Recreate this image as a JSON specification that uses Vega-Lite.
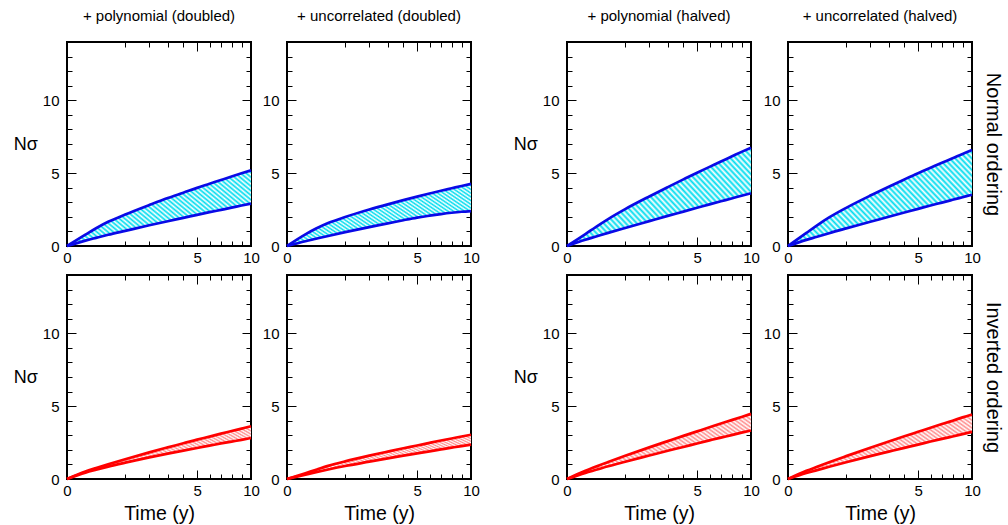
{
"$schema": "https://vega.github.io/schema/vega-lite/v6.json",
"padding": {"left": 12, "top": 8, "right": 4, "bottom": 4},
"datasets": {"curves": [
{"p":"A","o":"N","t":0,"lo":0,"hi":0},{"p":"A","o":"N","t":0.1,"lo":0.37,"hi":0.78},{"p":"A","o":"N","t":0.25,"lo":0.56,"hi":1.22},{"p":"A","o":"N","t":0.5,"lo":0.77,"hi":1.66},{"p":"A","o":"N","t":1,"lo":1.04,"hi":2.16},{"p":"A","o":"N","t":2,"lo":1.42,"hi":2.81},{"p":"A","o":"N","t":3,"lo":1.7,"hi":3.29},{"p":"A","o":"N","t":4,"lo":1.93,"hi":3.66},{"p":"A","o":"N","t":5,"lo":2.14,"hi":3.99},{"p":"A","o":"N","t":6,"lo":2.32,"hi":4.27},{"p":"A","o":"N","t":7,"lo":2.48,"hi":4.53},{"p":"A","o":"N","t":8,"lo":2.63,"hi":4.77},{"p":"A","o":"N","t":9,"lo":2.78,"hi":4.99},{"p":"A","o":"N","t":10,"lo":2.91,"hi":5.19},
{"p":"B","o":"N","t":0,"lo":0,"hi":0},{"p":"B","o":"N","t":0.1,"lo":0.33,"hi":0.8},{"p":"B","o":"N","t":0.25,"lo":0.5,"hi":1.2},{"p":"B","o":"N","t":0.5,"lo":0.69,"hi":1.58},{"p":"B","o":"N","t":1,"lo":0.95,"hi":1.99},{"p":"B","o":"N","t":2,"lo":1.3,"hi":2.5},{"p":"B","o":"N","t":3,"lo":1.55,"hi":2.86},{"p":"B","o":"N","t":4,"lo":1.77,"hi":3.15},{"p":"B","o":"N","t":5,"lo":1.95,"hi":3.39},{"p":"B","o":"N","t":6,"lo":2.08,"hi":3.6},{"p":"B","o":"N","t":7,"lo":2.19,"hi":3.79},{"p":"B","o":"N","t":8,"lo":2.28,"hi":3.96},{"p":"B","o":"N","t":9,"lo":2.35,"hi":4.12},{"p":"B","o":"N","t":10,"lo":2.4,"hi":4.26},
{"p":"C","o":"N","t":0,"lo":0,"hi":0},{"p":"C","o":"N","t":0.1,"lo":0.43,"hi":0.82},{"p":"C","o":"N","t":0.25,"lo":0.65,"hi":1.32},{"p":"C","o":"N","t":0.5,"lo":0.9,"hi":1.85},{"p":"C","o":"N","t":1,"lo":1.24,"hi":2.53},{"p":"C","o":"N","t":2,"lo":1.71,"hi":3.4},{"p":"C","o":"N","t":3,"lo":2.07,"hi":4.04},{"p":"C","o":"N","t":4,"lo":2.36,"hi":4.57},{"p":"C","o":"N","t":5,"lo":2.62,"hi":5.03},{"p":"C","o":"N","t":6,"lo":2.86,"hi":5.43},{"p":"C","o":"N","t":7,"lo":3.07,"hi":5.8},{"p":"C","o":"N","t":8,"lo":3.26,"hi":6.14},{"p":"C","o":"N","t":9,"lo":3.45,"hi":6.46},{"p":"C","o":"N","t":10,"lo":3.62,"hi":6.75},
{"p":"D","o":"N","t":0,"lo":0,"hi":0},{"p":"D","o":"N","t":0.1,"lo":0.42,"hi":0.9},{"p":"D","o":"N","t":0.25,"lo":0.63,"hi":1.42},{"p":"D","o":"N","t":0.5,"lo":0.88,"hi":1.96},{"p":"D","o":"N","t":1,"lo":1.21,"hi":2.62},{"p":"D","o":"N","t":2,"lo":1.66,"hi":3.46},{"p":"D","o":"N","t":3,"lo":2.01,"hi":4.07},{"p":"D","o":"N","t":4,"lo":2.3,"hi":4.57},{"p":"D","o":"N","t":5,"lo":2.55,"hi":5.0},{"p":"D","o":"N","t":6,"lo":2.78,"hi":5.37},{"p":"D","o":"N","t":7,"lo":2.98,"hi":5.71},{"p":"D","o":"N","t":8,"lo":3.17,"hi":6.02},{"p":"D","o":"N","t":9,"lo":3.35,"hi":6.32},{"p":"D","o":"N","t":10,"lo":3.52,"hi":6.59},
{"p":"A","o":"I","t":0,"lo":0,"hi":0},{"p":"A","o":"I","t":0.1,"lo":0.44,"hi":0.51},{"p":"A","o":"I","t":0.25,"lo":0.64,"hi":0.75},{"p":"A","o":"I","t":0.5,"lo":0.85,"hi":1.01},{"p":"A","o":"I","t":1,"lo":1.12,"hi":1.36},{"p":"A","o":"I","t":2,"lo":1.48,"hi":1.83},{"p":"A","o":"I","t":3,"lo":1.74,"hi":2.17},{"p":"A","o":"I","t":4,"lo":1.95,"hi":2.45},{"p":"A","o":"I","t":5,"lo":2.13,"hi":2.7},{"p":"A","o":"I","t":6,"lo":2.29,"hi":2.91},{"p":"A","o":"I","t":7,"lo":2.44,"hi":3.11},{"p":"A","o":"I","t":8,"lo":2.57,"hi":3.29},{"p":"A","o":"I","t":9,"lo":2.69,"hi":3.46},{"p":"A","o":"I","t":10,"lo":2.81,"hi":3.62},
{"p":"B","o":"I","t":0,"lo":0,"hi":0},{"p":"B","o":"I","t":0.1,"lo":0.3,"hi":0.4},{"p":"B","o":"I","t":0.25,"lo":0.47,"hi":0.64},{"p":"B","o":"I","t":0.5,"lo":0.65,"hi":0.9},{"p":"B","o":"I","t":1,"lo":0.89,"hi":1.21},{"p":"B","o":"I","t":2,"lo":1.19,"hi":1.6},{"p":"B","o":"I","t":3,"lo":1.42,"hi":1.88},{"p":"B","o":"I","t":4,"lo":1.6,"hi":2.11},{"p":"B","o":"I","t":5,"lo":1.76,"hi":2.3},{"p":"B","o":"I","t":6,"lo":1.9,"hi":2.48},{"p":"B","o":"I","t":7,"lo":2.03,"hi":2.64},{"p":"B","o":"I","t":8,"lo":2.15,"hi":2.78},{"p":"B","o":"I","t":9,"lo":2.26,"hi":2.92},{"p":"B","o":"I","t":10,"lo":2.36,"hi":3.04},
{"p":"C","o":"I","t":0,"lo":0,"hi":0},{"p":"C","o":"I","t":0.1,"lo":0.42,"hi":0.56},{"p":"C","o":"I","t":0.25,"lo":0.63,"hi":0.85},{"p":"C","o":"I","t":0.5,"lo":0.87,"hi":1.16},{"p":"C","o":"I","t":1,"lo":1.18,"hi":1.59},{"p":"C","o":"I","t":2,"lo":1.61,"hi":2.17},{"p":"C","o":"I","t":3,"lo":1.94,"hi":2.6},{"p":"C","o":"I","t":4,"lo":2.2,"hi":2.96},{"p":"C","o":"I","t":5,"lo":2.44,"hi":3.27},{"p":"C","o":"I","t":6,"lo":2.65,"hi":3.55},{"p":"C","o":"I","t":7,"lo":2.84,"hi":3.81},{"p":"C","o":"I","t":8,"lo":3.01,"hi":4.04},{"p":"C","o":"I","t":9,"lo":3.18,"hi":4.26},{"p":"C","o":"I","t":10,"lo":3.33,"hi":4.47},
{"p":"D","o":"I","t":0,"lo":0,"hi":0},{"p":"D","o":"I","t":0.1,"lo":0.41,"hi":0.56},{"p":"D","o":"I","t":0.25,"lo":0.61,"hi":0.84},{"p":"D","o":"I","t":0.5,"lo":0.84,"hi":1.15},{"p":"D","o":"I","t":1,"lo":1.15,"hi":1.57},{"p":"D","o":"I","t":2,"lo":1.57,"hi":2.15},{"p":"D","o":"I","t":3,"lo":1.88,"hi":2.58},{"p":"D","o":"I","t":4,"lo":2.14,"hi":2.93},{"p":"D","o":"I","t":5,"lo":2.36,"hi":3.24},{"p":"D","o":"I","t":6,"lo":2.57,"hi":3.52},{"p":"D","o":"I","t":7,"lo":2.75,"hi":3.77},{"p":"D","o":"I","t":8,"lo":2.92,"hi":4.0},{"p":"D","o":"I","t":9,"lo":3.08,"hi":4.23},{"p":"D","o":"I","t":10,"lo":3.23,"hi":4.43}
]},
"data": {"name": "curves"},
"spacing": 31,
"hconcat": [
 {"spacing": -3, "vconcat": [
  {"spacing": 0, "hconcat": [
   {"width": 184, "height": 204, "title": {"text": "+ polynomial (doubled)"},
    "transform": [{"filter": "datum.p==='A' && datum.o==='N'"}],
    "resolve": {"axis": {"x": "independent", "y": "independent"}},
    "layer": [
     {"mark": {"type": "area", "fill": "#00dcef", "interpolate": "monotone"},
      "encoding": {
       "x": {"field": "t", "type": "quantitative", "scale": {"type": "sqrt", "domain": [0, 10], "nice": false}, "axis": {"orient": "bottom", "values": [0,1,2,3,4,5,6,7,8,9,10], "labelExpr": "datum.value % 5 === 0 ? datum.label : ''", "tickSize": {"condition": {"test": "datum.value % 5 === 0", "value": -9}, "value": -5}, "labelPadding": 13, "title": null}},
       "y": {"field": "lo", "type": "quantitative", "scale": {"domain": [0, 14], "nice": false}, "axis": {"orient": "left", "values": [0,1,2,3,4,5,6,7,8,9,10,11,12,13,14], "labelExpr": "datum.value % 5 === 0 ? datum.label : ''", "tickSize": {"condition": {"test": "datum.value % 5 === 0", "value": -9}, "value": -5}, "labelPadding": 17, "title": "Nσ", "titleAngle": 0, "titleAlign": "right", "titleBaseline": "middle", "titlePadding": 5}},
       "y2": {"field": "hi"}}},
     {"mark": {"type": "area", "interpolate": "monotone"},
      "encoding": {"x": {"field": "t", "type": "quantitative", "axis": null}, "y": {"field": "lo", "type": "quantitative", "axis": null}, "y2": {"field": "hi"}}},
     {"mark": {"type": "line", "color": "#0a0ae6", "strokeWidth": 2.7, "interpolate": "monotone"},
      "encoding": {
       "x": {"field": "t", "type": "quantitative", "axis": {"orient": "top", "values": [0,1,2,3,4,5,6,7,8,9,10], "labels": false, "tickSize": {"condition": {"test": "datum.value % 5 === 0", "value": -9}, "value": -5}, "title": null}},
       "y": {"field": "hi", "type": "quantitative", "axis": {"orient": "right", "values": [0,1,2,3,4,5,6,7,8,9,10,11,12,13,14], "labels": false, "tickSize": {"condition": {"test": "datum.value % 5 === 0", "value": -9}, "value": -5}, "title": null}}}},
     {"mark": {"type": "line", "color": "#0a0ae6", "strokeWidth": 2.7, "interpolate": "monotone"},
      "encoding": {"x": {"field": "t", "type": "quantitative", "axis": null}, "y": {"field": "lo", "type": "quantitative", "axis": null}}}
    ]},
   {"width": 184, "height": 204, "title": {"text": "+ uncorrelated (doubled)"},
    "transform": [{"filter": "datum.p==='B' && datum.o==='N'"}],
    "resolve": {"axis": {"x": "independent", "y": "independent"}},
    "layer": [
     {"mark": {"type": "area", "fill": "#00dcef", "interpolate": "monotone"},
      "encoding": {
       "x": {"field": "t", "type": "quantitative", "scale": {"type": "sqrt", "domain": [0, 10], "nice": false}, "axis": {"orient": "bottom", "values": [0,1,2,3,4,5,6,7,8,9,10], "labelExpr": "datum.value % 5 === 0 ? datum.label : ''", "tickSize": {"condition": {"test": "datum.value % 5 === 0", "value": -9}, "value": -5}, "labelPadding": 13, "title": null}},
       "y": {"field": "lo", "type": "quantitative", "scale": {"domain": [0, 14], "nice": false}, "axis": {"orient": "left", "values": [0,1,2,3,4,5,6,7,8,9,10,11,12,13,14], "labelExpr": "datum.value % 5 === 0 ? datum.label : ''", "tickSize": {"condition": {"test": "datum.value % 5 === 0", "value": -9}, "value": -5}, "labelPadding": 17, "title": null}},
       "y2": {"field": "hi"}}},
     {"mark": {"type": "area", "interpolate": "monotone"},
      "encoding": {"x": {"field": "t", "type": "quantitative", "axis": null}, "y": {"field": "lo", "type": "quantitative", "axis": null}, "y2": {"field": "hi"}}},
     {"mark": {"type": "line", "color": "#0a0ae6", "strokeWidth": 2.7, "interpolate": "monotone"},
      "encoding": {
       "x": {"field": "t", "type": "quantitative", "axis": {"orient": "top", "values": [0,1,2,3,4,5,6,7,8,9,10], "labels": false, "tickSize": {"condition": {"test": "datum.value % 5 === 0", "value": -9}, "value": -5}, "title": null}},
       "y": {"field": "hi", "type": "quantitative", "axis": {"orient": "right", "values": [0,1,2,3,4,5,6,7,8,9,10,11,12,13,14], "labels": false, "tickSize": {"condition": {"test": "datum.value % 5 === 0", "value": -9}, "value": -5}, "title": null}}}},
     {"mark": {"type": "line", "color": "#0a0ae6", "strokeWidth": 2.7, "interpolate": "monotone"},
      "encoding": {"x": {"field": "t", "type": "quantitative", "axis": null}, "y": {"field": "lo", "type": "quantitative", "axis": null}}}
    ]}
  ]},
  {"spacing": 0, "hconcat": [
   {"width": 184, "height": 204,
    "transform": [{"filter": "datum.p==='A' && datum.o==='I'"}],
    "resolve": {"axis": {"x": "independent", "y": "independent"}},
    "layer": [
     {"mark": {"type": "area", "fill": "#ff8c8c", "interpolate": "monotone"},
      "encoding": {
       "x": {"field": "t", "type": "quantitative", "scale": {"type": "sqrt", "domain": [0, 10], "nice": false}, "axis": {"orient": "bottom", "values": [0,1,2,3,4,5,6,7,8,9,10], "labelExpr": "datum.value % 5 === 0 ? datum.label : ''", "tickSize": {"condition": {"test": "datum.value % 5 === 0", "value": -9}, "value": -5}, "labelPadding": 13, "title": "Time (y)", "titleFontSize": 19.5, "titlePadding": 2}},
       "y": {"field": "lo", "type": "quantitative", "scale": {"domain": [0, 14], "nice": false}, "axis": {"orient": "left", "values": [0,1,2,3,4,5,6,7,8,9,10,11,12,13,14], "labelExpr": "datum.value % 5 === 0 ? datum.label : ''", "tickSize": {"condition": {"test": "datum.value % 5 === 0", "value": -9}, "value": -5}, "labelPadding": 17, "title": "Nσ", "titleAngle": 0, "titleAlign": "right", "titleBaseline": "middle", "titlePadding": 5}},
       "y2": {"field": "hi"}}},
     {"mark": {"type": "area", "interpolate": "monotone"},
      "encoding": {"x": {"field": "t", "type": "quantitative", "axis": null}, "y": {"field": "lo", "type": "quantitative", "axis": null}, "y2": {"field": "hi"}}},
     {"mark": {"type": "line", "color": "#ff0000", "strokeWidth": 2.7, "interpolate": "monotone"},
      "encoding": {
       "x": {"field": "t", "type": "quantitative", "axis": {"orient": "top", "values": [0,1,2,3,4,5,6,7,8,9,10], "labels": false, "tickSize": {"condition": {"test": "datum.value % 5 === 0", "value": -9}, "value": -5}, "title": null}},
       "y": {"field": "hi", "type": "quantitative", "axis": {"orient": "right", "values": [0,1,2,3,4,5,6,7,8,9,10,11,12,13,14], "labels": false, "tickSize": {"condition": {"test": "datum.value % 5 === 0", "value": -9}, "value": -5}, "title": null}}}},
     {"mark": {"type": "line", "color": "#ff0000", "strokeWidth": 2.7, "interpolate": "monotone"},
      "encoding": {"x": {"field": "t", "type": "quantitative", "axis": null}, "y": {"field": "lo", "type": "quantitative", "axis": null}}}
    ]},
   {"width": 184, "height": 204,
    "transform": [{"filter": "datum.p==='B' && datum.o==='I'"}],
    "resolve": {"axis": {"x": "independent", "y": "independent"}},
    "layer": [
     {"mark": {"type": "area", "fill": "#ff8c8c", "interpolate": "monotone"},
      "encoding": {
       "x": {"field": "t", "type": "quantitative", "scale": {"type": "sqrt", "domain": [0, 10], "nice": false}, "axis": {"orient": "bottom", "values": [0,1,2,3,4,5,6,7,8,9,10], "labelExpr": "datum.value % 5 === 0 ? datum.label : ''", "tickSize": {"condition": {"test": "datum.value % 5 === 0", "value": -9}, "value": -5}, "labelPadding": 13, "title": "Time (y)", "titleFontSize": 19.5, "titlePadding": 2}},
       "y": {"field": "lo", "type": "quantitative", "scale": {"domain": [0, 14], "nice": false}, "axis": {"orient": "left", "values": [0,1,2,3,4,5,6,7,8,9,10,11,12,13,14], "labelExpr": "datum.value % 5 === 0 ? datum.label : ''", "tickSize": {"condition": {"test": "datum.value % 5 === 0", "value": -9}, "value": -5}, "labelPadding": 17, "title": null}},
       "y2": {"field": "hi"}}},
     {"mark": {"type": "area", "interpolate": "monotone"},
      "encoding": {"x": {"field": "t", "type": "quantitative", "axis": null}, "y": {"field": "lo", "type": "quantitative", "axis": null}, "y2": {"field": "hi"}}},
     {"mark": {"type": "line", "color": "#ff0000", "strokeWidth": 2.7, "interpolate": "monotone"},
      "encoding": {
       "x": {"field": "t", "type": "quantitative", "axis": {"orient": "top", "values": [0,1,2,3,4,5,6,7,8,9,10], "labels": false, "tickSize": {"condition": {"test": "datum.value % 5 === 0", "value": -9}, "value": -5}, "title": null}},
       "y": {"field": "hi", "type": "quantitative", "axis": {"orient": "right", "values": [0,1,2,3,4,5,6,7,8,9,10,11,12,13,14], "labels": false, "tickSize": {"condition": {"test": "datum.value % 5 === 0", "value": -9}, "value": -5}, "title": null}}}},
     {"mark": {"type": "line", "color": "#ff0000", "strokeWidth": 2.7, "interpolate": "monotone"},
      "encoding": {"x": {"field": "t", "type": "quantitative", "axis": null}, "y": {"field": "lo", "type": "quantitative", "axis": null}}}
    ]}
  ]}
 ]},
 {"spacing": -3, "vconcat": [
  {"spacing": 1, "hconcat": [
   {"width": 184, "height": 204, "title": {"text": "+ polynomial (halved)"},
    "transform": [{"filter": "datum.p==='C' && datum.o==='N'"}],
    "resolve": {"axis": {"x": "independent", "y": "independent"}},
    "layer": [
     {"mark": {"type": "area", "fill": "#00dcef", "interpolate": "monotone"},
      "encoding": {
       "x": {"field": "t", "type": "quantitative", "scale": {"type": "sqrt", "domain": [0, 10], "nice": false}, "axis": {"orient": "bottom", "values": [0,1,2,3,4,5,6,7,8,9,10], "labelExpr": "datum.value % 5 === 0 ? datum.label : ''", "tickSize": {"condition": {"test": "datum.value % 5 === 0", "value": -9}, "value": -5}, "labelPadding": 13, "title": null}},
       "y": {"field": "lo", "type": "quantitative", "scale": {"domain": [0, 14], "nice": false}, "axis": {"orient": "left", "values": [0,1,2,3,4,5,6,7,8,9,10,11,12,13,14], "labelExpr": "datum.value % 5 === 0 ? datum.label : ''", "tickSize": {"condition": {"test": "datum.value % 5 === 0", "value": -9}, "value": -5}, "labelPadding": 17, "title": "Nσ", "titleAngle": 0, "titleAlign": "right", "titleBaseline": "middle", "titlePadding": 5}},
       "y2": {"field": "hi"}}},
     {"mark": {"type": "area", "interpolate": "monotone"},
      "encoding": {"x": {"field": "t", "type": "quantitative", "axis": null}, "y": {"field": "lo", "type": "quantitative", "axis": null}, "y2": {"field": "hi"}}},
     {"mark": {"type": "line", "color": "#0a0ae6", "strokeWidth": 2.7, "interpolate": "monotone"},
      "encoding": {
       "x": {"field": "t", "type": "quantitative", "axis": {"orient": "top", "values": [0,1,2,3,4,5,6,7,8,9,10], "labels": false, "tickSize": {"condition": {"test": "datum.value % 5 === 0", "value": -9}, "value": -5}, "title": null}},
       "y": {"field": "hi", "type": "quantitative", "axis": {"orient": "right", "values": [0,1,2,3,4,5,6,7,8,9,10,11,12,13,14], "labels": false, "tickSize": {"condition": {"test": "datum.value % 5 === 0", "value": -9}, "value": -5}, "title": null}}}},
     {"mark": {"type": "line", "color": "#0a0ae6", "strokeWidth": 2.7, "interpolate": "monotone"},
      "encoding": {"x": {"field": "t", "type": "quantitative", "axis": null}, "y": {"field": "lo", "type": "quantitative", "axis": null}}}
    ]},
   {"width": 184, "height": 204, "title": {"text": "+ uncorrelated (halved)"},
    "transform": [{"filter": "datum.p==='D' && datum.o==='N'"}],
    "resolve": {"axis": {"x": "independent", "y": "independent"}},
    "layer": [
     {"mark": {"type": "area", "fill": "#00dcef", "interpolate": "monotone"},
      "encoding": {
       "x": {"field": "t", "type": "quantitative", "scale": {"type": "sqrt", "domain": [0, 10], "nice": false}, "axis": {"orient": "bottom", "values": [0,1,2,3,4,5,6,7,8,9,10], "labelExpr": "datum.value % 5 === 0 ? datum.label : ''", "tickSize": {"condition": {"test": "datum.value % 5 === 0", "value": -9}, "value": -5}, "labelPadding": 13, "title": null}},
       "y": {"field": "lo", "type": "quantitative", "scale": {"domain": [0, 14], "nice": false}, "axis": {"orient": "left", "values": [0,1,2,3,4,5,6,7,8,9,10,11,12,13,14], "labelExpr": "datum.value % 5 === 0 ? datum.label : ''", "tickSize": {"condition": {"test": "datum.value % 5 === 0", "value": -9}, "value": -5}, "labelPadding": 17, "title": null}},
       "y2": {"field": "hi"}}},
     {"mark": {"type": "area", "interpolate": "monotone"},
      "encoding": {"x": {"field": "t", "type": "quantitative", "axis": null}, "y": {"field": "lo", "type": "quantitative", "axis": null}, "y2": {"field": "hi"}}},
     {"mark": {"type": "line", "color": "#0a0ae6", "strokeWidth": 2.7, "interpolate": "monotone"},
      "encoding": {
       "x": {"field": "t", "type": "quantitative", "axis": {"orient": "top", "values": [0,1,2,3,4,5,6,7,8,9,10], "labels": false, "tickSize": {"condition": {"test": "datum.value % 5 === 0", "value": -9}, "value": -5}, "title": null}},
       "y": {"field": "hi", "type": "quantitative", "axis": {"orient": "right", "values": [0,1,2,3,4,5,6,7,8,9,10,11,12,13,14], "labels": false, "tickSize": {"condition": {"test": "datum.value % 5 === 0", "value": -9}, "value": -5}, "title": "Normal ordering", "titleFontSize": 20, "titlePadding": 10}}}},
     {"mark": {"type": "line", "color": "#0a0ae6", "strokeWidth": 2.7, "interpolate": "monotone"},
      "encoding": {"x": {"field": "t", "type": "quantitative", "axis": null}, "y": {"field": "lo", "type": "quantitative", "axis": null}}}
    ]}
  ]},
  {"spacing": 1, "hconcat": [
   {"width": 184, "height": 204,
    "transform": [{"filter": "datum.p==='C' && datum.o==='I'"}],
    "resolve": {"axis": {"x": "independent", "y": "independent"}},
    "layer": [
     {"mark": {"type": "area", "fill": "#ff8c8c", "interpolate": "monotone"},
      "encoding": {
       "x": {"field": "t", "type": "quantitative", "scale": {"type": "sqrt", "domain": [0, 10], "nice": false}, "axis": {"orient": "bottom", "values": [0,1,2,3,4,5,6,7,8,9,10], "labelExpr": "datum.value % 5 === 0 ? datum.label : ''", "tickSize": {"condition": {"test": "datum.value % 5 === 0", "value": -9}, "value": -5}, "labelPadding": 13, "title": "Time (y)", "titleFontSize": 19.5, "titlePadding": 2}},
       "y": {"field": "lo", "type": "quantitative", "scale": {"domain": [0, 14], "nice": false}, "axis": {"orient": "left", "values": [0,1,2,3,4,5,6,7,8,9,10,11,12,13,14], "labelExpr": "datum.value % 5 === 0 ? datum.label : ''", "tickSize": {"condition": {"test": "datum.value % 5 === 0", "value": -9}, "value": -5}, "labelPadding": 17, "title": "Nσ", "titleAngle": 0, "titleAlign": "right", "titleBaseline": "middle", "titlePadding": 5}},
       "y2": {"field": "hi"}}},
     {"mark": {"type": "area", "interpolate": "monotone"},
      "encoding": {"x": {"field": "t", "type": "quantitative", "axis": null}, "y": {"field": "lo", "type": "quantitative", "axis": null}, "y2": {"field": "hi"}}},
     {"mark": {"type": "line", "color": "#ff0000", "strokeWidth": 2.7, "interpolate": "monotone"},
      "encoding": {
       "x": {"field": "t", "type": "quantitative", "axis": {"orient": "top", "values": [0,1,2,3,4,5,6,7,8,9,10], "labels": false, "tickSize": {"condition": {"test": "datum.value % 5 === 0", "value": -9}, "value": -5}, "title": null}},
       "y": {"field": "hi", "type": "quantitative", "axis": {"orient": "right", "values": [0,1,2,3,4,5,6,7,8,9,10,11,12,13,14], "labels": false, "tickSize": {"condition": {"test": "datum.value % 5 === 0", "value": -9}, "value": -5}, "title": null}}}},
     {"mark": {"type": "line", "color": "#ff0000", "strokeWidth": 2.7, "interpolate": "monotone"},
      "encoding": {"x": {"field": "t", "type": "quantitative", "axis": null}, "y": {"field": "lo", "type": "quantitative", "axis": null}}}
    ]},
   {"width": 184, "height": 204,
    "transform": [{"filter": "datum.p==='D' && datum.o==='I'"}],
    "resolve": {"axis": {"x": "independent", "y": "independent"}},
    "layer": [
     {"mark": {"type": "area", "fill": "#ff8c8c", "interpolate": "monotone"},
      "encoding": {
       "x": {"field": "t", "type": "quantitative", "scale": {"type": "sqrt", "domain": [0, 10], "nice": false}, "axis": {"orient": "bottom", "values": [0,1,2,3,4,5,6,7,8,9,10], "labelExpr": "datum.value % 5 === 0 ? datum.label : ''", "tickSize": {"condition": {"test": "datum.value % 5 === 0", "value": -9}, "value": -5}, "labelPadding": 13, "title": "Time (y)", "titleFontSize": 19.5, "titlePadding": 2}},
       "y": {"field": "lo", "type": "quantitative", "scale": {"domain": [0, 14], "nice": false}, "axis": {"orient": "left", "values": [0,1,2,3,4,5,6,7,8,9,10,11,12,13,14], "labelExpr": "datum.value % 5 === 0 ? datum.label : ''", "tickSize": {"condition": {"test": "datum.value % 5 === 0", "value": -9}, "value": -5}, "labelPadding": 17, "title": null}},
       "y2": {"field": "hi"}}},
     {"mark": {"type": "area", "interpolate": "monotone"},
      "encoding": {"x": {"field": "t", "type": "quantitative", "axis": null}, "y": {"field": "lo", "type": "quantitative", "axis": null}, "y2": {"field": "hi"}}},
     {"mark": {"type": "line", "color": "#ff0000", "strokeWidth": 2.7, "interpolate": "monotone"},
      "encoding": {
       "x": {"field": "t", "type": "quantitative", "axis": {"orient": "top", "values": [0,1,2,3,4,5,6,7,8,9,10], "labels": false, "tickSize": {"condition": {"test": "datum.value % 5 === 0", "value": -9}, "value": -5}, "title": null}},
       "y": {"field": "hi", "type": "quantitative", "axis": {"orient": "right", "values": [0,1,2,3,4,5,6,7,8,9,10,11,12,13,14], "labels": false, "tickSize": {"condition": {"test": "datum.value % 5 === 0", "value": -9}, "value": -5}, "title": "Inverted ordering", "titleFontSize": 20, "titlePadding": 10}}}},
     {"mark": {"type": "line", "color": "#ff0000", "strokeWidth": 2.7, "interpolate": "monotone"},
      "encoding": {"x": {"field": "t", "type": "quantitative", "axis": null}, "y": {"field": "lo", "type": "quantitative", "axis": null}}}
    ]}
  ]}
 ]}
],
"config": {
 "font": "Liberation Sans",
 "view": {"stroke": "black", "strokeWidth": 2},
 "axis": {"domain": false, "grid": false, "tickColor": "black", "tickWidth": 1, "labelColor": "black", "labelFontSize": 15, "labelFlush": false, "labelOverlap": false, "titleColor": "black", "titleFontWeight": "normal", "titleFontSize": 18},
 "title": {"fontSize": 15, "fontWeight": "normal", "color": "black", "frame": "group", "offset": 11},
 "area": {"fill": {"gradient": "linear", "x1": 0, "y1": 1, "x2": 1.2, "y2": 0.4, "stops": [
{"offset":0,"color":"#ffffff"},{"offset":0.01,"color":"rgba(255,255,255,0)"},{"offset":0.02,"color":"#ffffff"},{"offset":0.03,"color":"rgba(255,255,255,0)"},{"offset":0.04,"color":"#ffffff"},{"offset":0.05,"color":"rgba(255,255,255,0)"},{"offset":0.06,"color":"#ffffff"},{"offset":0.07,"color":"rgba(255,255,255,0)"},{"offset":0.08,"color":"#ffffff"},{"offset":0.09,"color":"rgba(255,255,255,0)"},
{"offset":0.1,"color":"#ffffff"},{"offset":0.11,"color":"rgba(255,255,255,0)"},{"offset":0.12,"color":"#ffffff"},{"offset":0.13,"color":"rgba(255,255,255,0)"},{"offset":0.14,"color":"#ffffff"},{"offset":0.15,"color":"rgba(255,255,255,0)"},{"offset":0.16,"color":"#ffffff"},{"offset":0.17,"color":"rgba(255,255,255,0)"},{"offset":0.18,"color":"#ffffff"},{"offset":0.19,"color":"rgba(255,255,255,0)"},
{"offset":0.2,"color":"#ffffff"},{"offset":0.21,"color":"rgba(255,255,255,0)"},{"offset":0.22,"color":"#ffffff"},{"offset":0.23,"color":"rgba(255,255,255,0)"},{"offset":0.24,"color":"#ffffff"},{"offset":0.25,"color":"rgba(255,255,255,0)"},{"offset":0.26,"color":"#ffffff"},{"offset":0.27,"color":"rgba(255,255,255,0)"},{"offset":0.28,"color":"#ffffff"},{"offset":0.29,"color":"rgba(255,255,255,0)"},
{"offset":0.3,"color":"#ffffff"},{"offset":0.31,"color":"rgba(255,255,255,0)"},{"offset":0.32,"color":"#ffffff"},{"offset":0.33,"color":"rgba(255,255,255,0)"},{"offset":0.34,"color":"#ffffff"},{"offset":0.35,"color":"rgba(255,255,255,0)"},{"offset":0.36,"color":"#ffffff"},{"offset":0.37,"color":"rgba(255,255,255,0)"},{"offset":0.38,"color":"#ffffff"},{"offset":0.39,"color":"rgba(255,255,255,0)"},
{"offset":0.4,"color":"#ffffff"},{"offset":0.41,"color":"rgba(255,255,255,0)"},{"offset":0.42,"color":"#ffffff"},{"offset":0.43,"color":"rgba(255,255,255,0)"},{"offset":0.44,"color":"#ffffff"},{"offset":0.45,"color":"rgba(255,255,255,0)"},{"offset":0.46,"color":"#ffffff"},{"offset":0.47,"color":"rgba(255,255,255,0)"},{"offset":0.48,"color":"#ffffff"},{"offset":0.49,"color":"rgba(255,255,255,0)"},
{"offset":0.5,"color":"#ffffff"},{"offset":0.51,"color":"rgba(255,255,255,0)"},{"offset":0.52,"color":"#ffffff"},{"offset":0.53,"color":"rgba(255,255,255,0)"},{"offset":0.54,"color":"#ffffff"},{"offset":0.55,"color":"rgba(255,255,255,0)"},{"offset":0.56,"color":"#ffffff"},{"offset":0.57,"color":"rgba(255,255,255,0)"},{"offset":0.58,"color":"#ffffff"},{"offset":0.59,"color":"rgba(255,255,255,0)"},
{"offset":0.6,"color":"#ffffff"},{"offset":0.61,"color":"rgba(255,255,255,0)"},{"offset":0.62,"color":"#ffffff"},{"offset":0.63,"color":"rgba(255,255,255,0)"},{"offset":0.64,"color":"#ffffff"},{"offset":0.65,"color":"rgba(255,255,255,0)"},{"offset":0.66,"color":"#ffffff"},{"offset":0.67,"color":"rgba(255,255,255,0)"},{"offset":0.68,"color":"#ffffff"},{"offset":0.69,"color":"rgba(255,255,255,0)"},
{"offset":0.7,"color":"#ffffff"},{"offset":0.71,"color":"rgba(255,255,255,0)"},{"offset":0.72,"color":"#ffffff"},{"offset":0.73,"color":"rgba(255,255,255,0)"},{"offset":0.74,"color":"#ffffff"},{"offset":0.75,"color":"rgba(255,255,255,0)"},{"offset":0.76,"color":"#ffffff"},{"offset":0.77,"color":"rgba(255,255,255,0)"},{"offset":0.78,"color":"#ffffff"},{"offset":0.79,"color":"rgba(255,255,255,0)"},
{"offset":0.8,"color":"#ffffff"},{"offset":0.81,"color":"rgba(255,255,255,0)"},{"offset":0.82,"color":"#ffffff"},{"offset":0.83,"color":"rgba(255,255,255,0)"},{"offset":0.84,"color":"#ffffff"},{"offset":0.85,"color":"rgba(255,255,255,0)"},{"offset":0.86,"color":"#ffffff"},{"offset":0.87,"color":"rgba(255,255,255,0)"},{"offset":0.88,"color":"#ffffff"},{"offset":0.89,"color":"rgba(255,255,255,0)"},
{"offset":0.9,"color":"#ffffff"},{"offset":0.91,"color":"rgba(255,255,255,0)"},{"offset":0.92,"color":"#ffffff"},{"offset":0.93,"color":"rgba(255,255,255,0)"},{"offset":0.94,"color":"#ffffff"},{"offset":0.95,"color":"rgba(255,255,255,0)"},{"offset":0.96,"color":"#ffffff"},{"offset":0.97,"color":"rgba(255,255,255,0)"},{"offset":0.98,"color":"#ffffff"},{"offset":0.99,"color":"rgba(255,255,255,0)"},
{"offset":1,"color":"#ffffff"}]}}
}
}
